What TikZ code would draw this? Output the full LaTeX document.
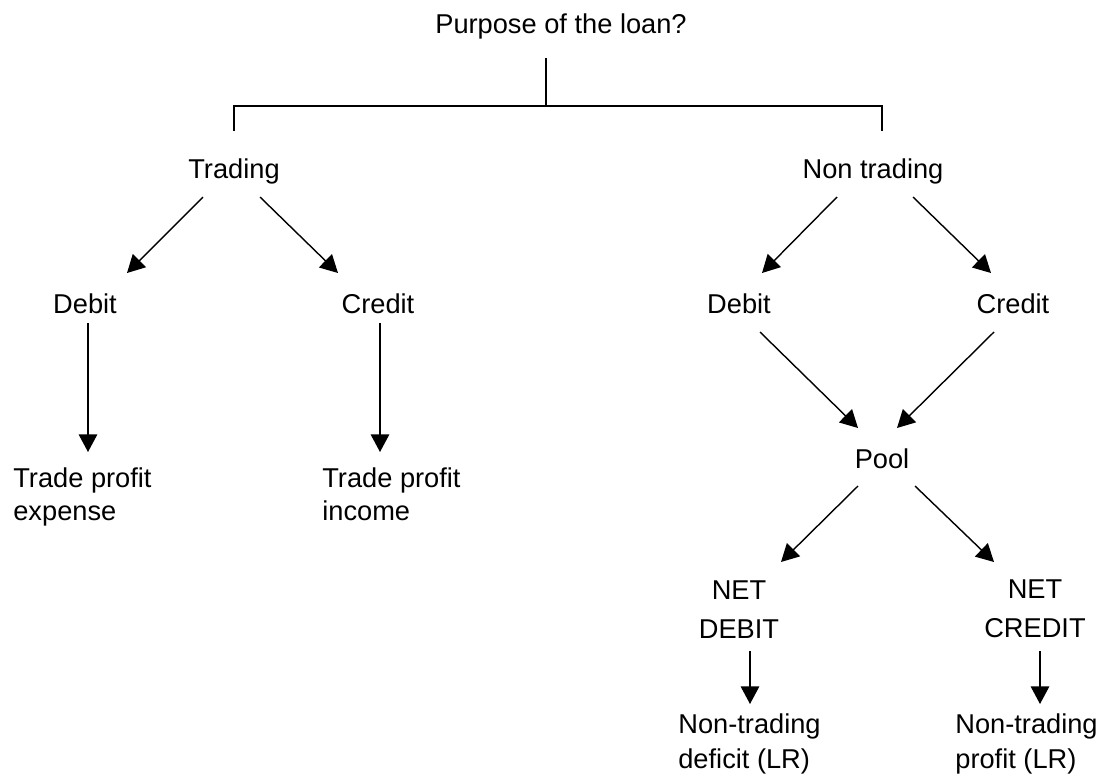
\documentclass[tikz,border=0pt]{standalone}
\usepackage{fontspec}
\setmainfont{Liberation Sans}
\usetikzlibrary{arrows.meta, calc}
\tikzset{
  lbl/.style={inner sep=0pt, font=\fontsize{15.5}{19}\selectfont},
  twoline/.style={lbl, align=center, font=\fontsize{15.5}{22.2}\selectfont},
  leftline/.style={lbl, align=left},
  arr/.style={-{Triangle[length=10pt,width=10.5pt]}, line width=0.8pt},
}

\begin{document}
\begin{tikzpicture}[x=0.02cm,y=-0.02cm]
        \useasboundingbox (0,0) rectangle (1109,778);
        % question and fork
        \node[lbl,anchor=base] (purpose) at (561,33) {Purpose of the loan?};
        \node[lbl,anchor=base] (trading) at (234,178) {Trading};
        \node[lbl,anchor=base] (nontrading) at (873,178) {Non trading};
        \coordinate (fork) at (546,106);
        \draw[line width=0.8pt] ($(purpose.base)+(-15,25)$) -- (fork);
        \draw[line width=0.8pt] ($(trading.base)+(0,-47)$) |- (fork) -| ($(nontrading.base)+(9,-47)$);
        % trading side
        \node[lbl,anchor=base] (debitL) at (85,313) {Debit};
        \node[lbl,anchor=base] (creditL) at (378,313) {Credit};
        \node[leftline,anchor=north west] (tpexp) at (13,467) {Trade profit\\expense};
        \node[leftline,anchor=north west] (tpinc) at (322,467) {Trade profit\\income};
        \draw[arr] ($(trading.base)+(-31,19)$) -- ($(debitL.base)+(42,-40)$);
        \draw[arr] ($(trading.base)+(26,19)$) -- ($(creditL.base)+(-40,-40)$);
        \draw[arr] ($(debitL.base)+(3,10)$) -- ($(tpexp.north west)+(75,-15)$);
        \draw[arr] ($(creditL.base)+(2,10)$) -- ($(tpinc.north west)+(58,-15)$);
        % non trading side
        \node[lbl,anchor=base] (debitR) at (739,313) {Debit};
        \node[lbl,anchor=base] (creditR) at (1013,313) {Credit};
        \node[lbl,anchor=base] (pool) at (882,468) {Pool};
        \draw[arr] ($(nontrading.base)+(-36,19)$) -- ($(debitR.base)+(23,-40)$);
        \draw[arr] ($(nontrading.base)+(40,19)$) -- ($(creditR.base)+(-22,-40)$);
        \draw[arr] ($(debitR.base)+(21,19)$) -- ($(pool.base)+(-24,-40)$);
        \draw[arr] ($(creditR.base)+(-19,19)$) -- ($(pool.base)+(15,-40)$);
        % net result
        \node[twoline,anchor=north] (netdeb) at (739,580) {NET\\DEBIT};
        \node[twoline,anchor=north] (netcred) at (1035,579) {NET\\CREDIT};
        \node[leftline,anchor=north west,font=\fontsize{15.5}{20}\selectfont] (ntdef) at (678,713) {Non-trading\\deficit (LR)};
        \node[leftline,anchor=north west,font=\fontsize{15.5}{20}\selectfont] (ntprof) at (955,713) {Non-trading\\profit (LR)};
        \draw[arr] ($(pool.base)+(-24,18)$) -- ($(netdeb.north)+(42,-18)$);
        \draw[arr] ($(pool.base)+(33,18)$) -- ($(netcred.north)+(-41,-17)$);
        \draw[arr] ($(netdeb.north)+(11,71)$) -- ($(ntdef.north west)+(72,-9)$);
        \draw[arr] ($(netcred.north)+(5,72)$) -- ($(ntprof.north west)+(85,-9)$);
\end{tikzpicture}
\end{document}
